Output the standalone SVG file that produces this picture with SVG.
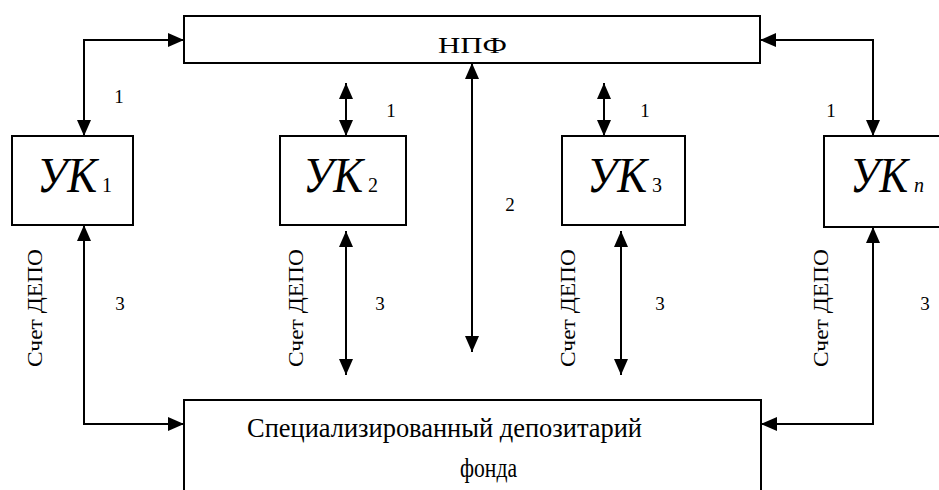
<svg xmlns="http://www.w3.org/2000/svg" width="939" height="490" viewBox="0 0 939 490">
<defs>
<marker id="ah" markerUnits="userSpaceOnUse" markerWidth="16" markerHeight="14" refX="16" refY="7" orient="auto-start-reverse" viewBox="0 0 16 14">
<path d="M0,0 L16,7 L0,14 z" fill="#000"/>
</marker>
</defs>
<rect width="939" height="490" fill="#fff"/>
<g id="npf">
<rect x="184" y="16" width="576" height="47" fill="#fff" stroke="#000" stroke-width="2"/>
<text x="438" y="53" style="font-family:'Liberation Serif',serif;font-size:24px" textLength="69" lengthAdjust="spacingAndGlyphs">НПФ</text>
</g>
<g id="uk1">
<rect x="12" y="136" width="121" height="89" fill="#fff" stroke="#000" stroke-width="2"/>
<text x="37" y="192" style="font-family:'Liberation Serif',serif;font-size:50px;font-style:italic" textLength="60" lengthAdjust="spacingAndGlyphs">УК</text>
<text x="102" y="192" style="font-family:'Liberation Serif',serif;font-size:20px">1</text>
</g>
<g id="uk2">
<rect x="280" y="136" width="126" height="89" fill="#fff" stroke="#000" stroke-width="2"/>
<text x="303" y="192" style="font-family:'Liberation Serif',serif;font-size:50px;font-style:italic" textLength="60" lengthAdjust="spacingAndGlyphs">УК</text>
<text x="368" y="192" style="font-family:'Liberation Serif',serif;font-size:20px">2</text>
</g>
<g id="uk3">
<rect x="562" y="136" width="123" height="89" fill="#fff" stroke="#000" stroke-width="2"/>
<text x="587" y="192" style="font-family:'Liberation Serif',serif;font-size:50px;font-style:italic" textLength="60" lengthAdjust="spacingAndGlyphs">УК</text>
<text x="652" y="192" style="font-family:'Liberation Serif',serif;font-size:20px">3</text>
</g>
<g id="ukn">
<rect x="824" y="136" width="130" height="91" fill="#fff" stroke="#000" stroke-width="2"/>
<text x="850" y="192" style="font-family:'Liberation Serif',serif;font-size:50px;font-style:italic" textLength="58" lengthAdjust="spacingAndGlyphs">УК</text>
<text x="914" y="192" style="font-family:'Liberation Serif',serif;font-size:20px;font-style:italic">n</text>
</g>
<g id="depository">
<rect x="184" y="400" width="577" height="110" fill="#fff" stroke="#000" stroke-width="2"/>
<text x="247" y="437" style="font-family:'Liberation Serif',serif;font-size:28px" textLength="395" lengthAdjust="spacingAndGlyphs">Специализированный депозитарий</text>
<text x="460" y="477" style="font-family:'Liberation Serif',serif;font-size:28px" textLength="57" lengthAdjust="spacingAndGlyphs">фонда</text>
</g>
<g id="connectors" fill="none" stroke="#000" stroke-width="2">
<path d="M184,40 H84 V136" marker-start="url(#ah)" marker-end="url(#ah)"/>
<path d="M760,40 H873 V136" marker-start="url(#ah)" marker-end="url(#ah)"/>
<path d="M346,83 V136" marker-start="url(#ah)" marker-end="url(#ah)"/>
<path d="M604,83 V136" marker-start="url(#ah)" marker-end="url(#ah)"/>
<path d="M472,63 V352" marker-start="url(#ah)" marker-end="url(#ah)"/>
<path d="M346,231 V375" marker-start="url(#ah)" marker-end="url(#ah)"/>
<path d="M621,231 V375" marker-start="url(#ah)" marker-end="url(#ah)"/>
<path d="M84,225 V424 H184" marker-start="url(#ah)" marker-end="url(#ah)"/>
<path d="M873,227 V424 H761" marker-start="url(#ah)" marker-end="url(#ah)"/>
</g>
<g id="labels">
<text x="119" y="103" text-anchor="middle" style="font-family:'Liberation Serif',serif;font-size:19px">1</text>
<text x="391" y="117" text-anchor="middle" style="font-family:'Liberation Serif',serif;font-size:19px">1</text>
<text x="510" y="211" text-anchor="middle" style="font-family:'Liberation Serif',serif;font-size:19px">2</text>
<text x="645" y="117" text-anchor="middle" style="font-family:'Liberation Serif',serif;font-size:19px">1</text>
<text x="831" y="117" text-anchor="middle" style="font-family:'Liberation Serif',serif;font-size:19px">1</text>
<text x="120" y="310" text-anchor="middle" style="font-family:'Liberation Serif',serif;font-size:19px">3</text>
<text x="380" y="310" text-anchor="middle" style="font-family:'Liberation Serif',serif;font-size:19px">3</text>
<text x="660" y="310" text-anchor="middle" style="font-family:'Liberation Serif',serif;font-size:19px">3</text>
<text x="925" y="310" text-anchor="middle" style="font-family:'Liberation Serif',serif;font-size:19px">3</text>
</g>
<g id="depo-labels">
<text transform="translate(42,367) rotate(-90)" style="font-family:'Liberation Serif',serif;font-size:22px" textLength="118" lengthAdjust="spacingAndGlyphs">Счет ДЕПО</text>
<text transform="translate(303,367) rotate(-90)" style="font-family:'Liberation Serif',serif;font-size:22px" textLength="118" lengthAdjust="spacingAndGlyphs">Счет ДЕПО</text>
<text transform="translate(575,367) rotate(-90)" style="font-family:'Liberation Serif',serif;font-size:22px" textLength="118" lengthAdjust="spacingAndGlyphs">Счет ДЕПО</text>
<text transform="translate(828,367) rotate(-90)" style="font-family:'Liberation Serif',serif;font-size:22px" textLength="118" lengthAdjust="spacingAndGlyphs">Счет ДЕПО</text>
</g>
</svg>
